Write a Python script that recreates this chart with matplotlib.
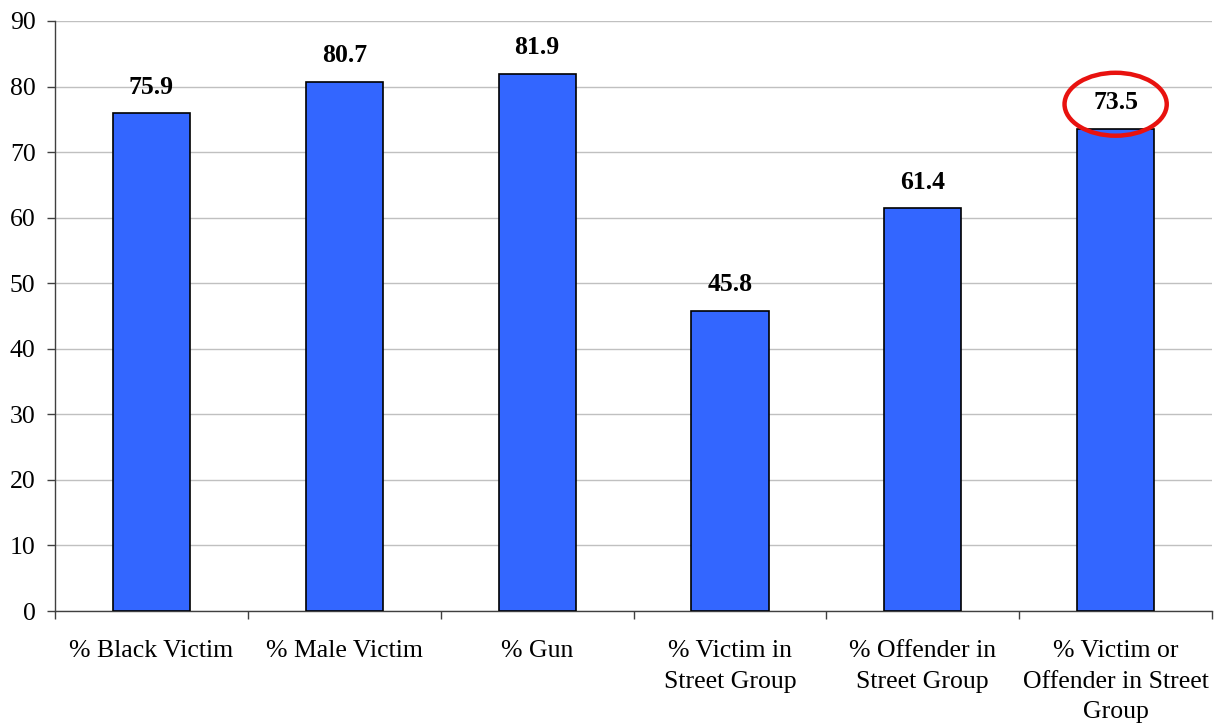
import numpy as np
import matplotlib.pyplot as plt
from matplotlib.patches import Ellipse

# Dados do gráfico
categories = ['% Black Victim', '% Male Victim', '% Gun',
              '% Victim in\nStreet Group', '% Offender in\nStreet Group',
              '% Victim or\nOffender in Street\nGroup']
values = [75.9, 80.7, 81.9, 45.8, 61.4, 73.5]
yticks = [0, 10, 20, 30, 40, 50, 60, 70, 80, 90]

plt.rcParams['font.family'] = ['Liberation Serif', 'DejaVu Serif']

fig = plt.figure(figsize=(12.14, 7.26), dpi=100)
ax = fig.add_axes([0.0453, 0.1584, 0.9531, 0.8127])

x = np.arange(len(categories))
ax.bar(x, values, width=0.4, color='#3366FF', edgecolor='black', linewidth=1.2, zorder=3)

for xi, v in zip(x, values):
    ax.annotate(f'{v:.1f}', (xi, v), xytext=(0, 19), textcoords='offset points',
                ha='center', va='center', fontsize=18.5, fontweight='bold', zorder=5)

# destaque da última barra
ax.add_patch(Ellipse((x[-1], 77.3), 0.53, 9.6, fill=False, edgecolor='#E8120F',
                     linewidth=3.2, zorder=6, clip_on=False))

ax.set_xlim(-0.5, len(categories) - 0.5)
ax.set_ylim(0, 90)
ax.set_yticks(yticks)
ax.set_xticks(x)
ax.set_xticklabels(categories, fontsize=18.5, linespacing=1.5)
ax.set_xticks(np.arange(-0.5, len(categories)), minor=True)
ax.tick_params(axis='x', which='major', length=0, pad=21)
ax.tick_params(axis='x', which='minor', length=6, width=1, color='#404040', direction='out')
ax.tick_params(axis='y', labelsize=18.5, length=6, width=1, color='#404040', pad=8)

ax.yaxis.grid(True, color='#C0C0C0', linewidth=1, zorder=0)
ax.set_axisbelow(True)
for s in ['top', 'right']:
    ax.spines[s].set_visible(False)
for s in ['left', 'bottom']:
    ax.spines[s].set_color('#404040')
    ax.spines[s].set_linewidth(1)

fig.savefig('out.png', dpi=100)
